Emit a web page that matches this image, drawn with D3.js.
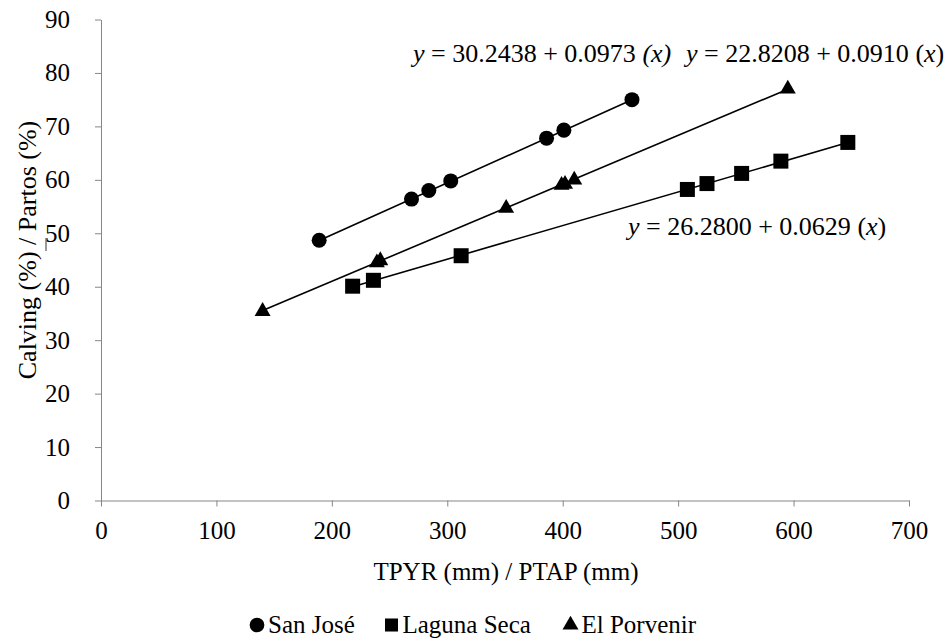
<!DOCTYPE html>
<meta charset="utf-8">
<style>
  body { margin: 0; background: white; }
  .axis path, .axis line { stroke: #868686; stroke-width: 1px; }
  .trend { fill: none; stroke: #000; stroke-width: 1.6px; }
</style>
<body>
<svg width="947" height="642"></svg>
<script src="https://d3js.org/d3.v7.min.js"></script>
<script>

// Data
var sanJoseX = [189, 269, 284, 303, 386, 401, 460];
var sanJoseY = [48.7, 56.4, 58.0, 59.8, 67.8, 69.3, 75.0];

var lagunaX = [218, 236, 312, 508, 525, 555, 589, 647];
var lagunaY = [40.1, 41.2, 45.8, 58.2, 59.3, 61.2, 63.5, 67.0];

var porvenirX = [140, 239, 242, 351, 399, 402, 410, 595];
var porvenirY = [35.4, 44.5, 44.9, 54.7, 59.0, 59.2, 60.0, 77.0];

// regression lines: [intercept, slope]
var sanJoseFit = [30.2438, 0.0973];
var lagunaFit = [26.2800, 0.0629];
var porvenirFit = [22.8208, 0.0910];

var xTicks = [0, 100, 200, 300, 400, 500, 600, 700];
var yTicks = [0, 10, 20, 30, 40, 50, 60, 70, 80, 90];

var seriesNames = ["San José", "Laguna Seca", "El Porvenir"];

const FONT = "'Liberation Serif', 'DejaVu Serif', 'Times New Roman', Times, serif";

const svg = d3.select("svg");

const x = d3.scaleLinear().domain([0, 700]).range([101, 909]);
const y = d3.scaleLinear().domain([0, 90]).range([500.5, 19.5]);

// Axes
svg.append("g")
  .attr("class", "axis")
  .attr("transform", "translate(0,500.5)")
  .call(d3.axisBottom(x).tickValues(xTicks).tickSize(6).tickSizeOuter(0).tickPadding(15))
  .selectAll("text")
  .style("font-size", "25px");

svg.append("g")
  .attr("class", "axis")
  .attr("transform", "translate(101,0)")
  .call(d3.axisLeft(y).tickValues(yTicks).tickSize(6).tickSizeOuter(0).tickPadding(25))
  .selectAll("text")
  .style("font-size", "25px");

// Axis titles
svg.append("text")
  .attr("x", 506).attr("y", 580)
  .attr("text-anchor", "middle")
  .style("font-size", "25px")
  .text("TPYR (mm) / PTAP (mm)");

svg.append("text")
  .attr("transform", "translate(36,250) rotate(-90)")
  .attr("text-anchor", "middle")
  .style("font-size", "26px")
  .text("Calving (%) / Partos (%)");

// small stray dash next to the y title in the original
svg.append("line")
  .attr("x1", 46).attr("x2", 46).attr("y1", 238).attr("y2", 251)
  .attr("stroke", "#555").attr("stroke-width", 1.2);

// Trend lines + markers for each series
var series = [
  { xs: sanJoseX, ys: sanJoseY, fit: sanJoseFit, shape: d3.symbolCircle, size: 177 },
  { xs: lagunaX, ys: lagunaY, fit: lagunaFit, shape: d3.symbolSquare, size: 225 },
  { xs: porvenirX, ys: porvenirY, fit: porvenirFit, shape: d3.symbolTriangle, size: 110 }
];

const line = d3.line().x(d => x(d[0])).y(d => y(d[1]));

series.forEach(function(s) {
  var ends = d3.extent(s.xs).map(v => [v, s.fit[0] + s.fit[1] * v]);
  svg.append("path").attr("class", "trend").attr("d", line(ends));
});

series.forEach(function(s) {
  var pts = s.xs.map((v, i) => [v, s.ys[i]]);
  svg.append("g").selectAll("path")
    .data(pts)
    .enter().append("path")
    .attr("d", d3.symbol().type(s.shape).size(s.size))
    .attr("transform", d => "translate(" + x(d[0]) + "," + y(d[1]) + ")")
    .attr("fill", "#000");
});

// Equation labels
function equation(px, py, fit, italicParens) {
  var t = svg.append("text").attr("x", px).attr("y", py).style("font-size", "26px");
  t.append("tspan").style("font-style", "italic").text("y");
  t.append("tspan").text(" = " + fit[0].toFixed(4) + " + " + fit[1].toFixed(4) + " ");
  if (italicParens) {
    t.append("tspan").style("font-style", "italic").text("(x)");
  } else {
    t.append("tspan").text("(");
    t.append("tspan").style("font-style", "italic").text("x");
    t.append("tspan").text(")");
  }
}
equation(413, 62, sanJoseFit, true);
equation(686, 62, porvenirFit, false);
equation(628, 235, lagunaFit, false);

// Legend
var legendX = [257, 391.5, 570.5];
var legendShapes = [d3.symbolCircle, d3.symbolSquare, d3.symbolTriangle];
var legendSizes = [170, 170, 110];
var leg = svg.append("g");
seriesNames.forEach(function(name, i) {
  leg.append("path")
    .attr("d", d3.symbol().type(legendShapes[i]).size(legendSizes[i]))
    .attr("transform", "translate(" + legendX[i] + ",625)")
    .attr("fill", "#000");
  leg.append("text")
    .attr("x", legendX[i] + 11).attr("y", 633)
    .style("font-size", "25px")
    .text(name);
});

// one font for every label (the axis sets its own sans-serif otherwise)
svg.selectAll("text").style("font-family", FONT).attr("fill", "#000");

</script>
</body>
